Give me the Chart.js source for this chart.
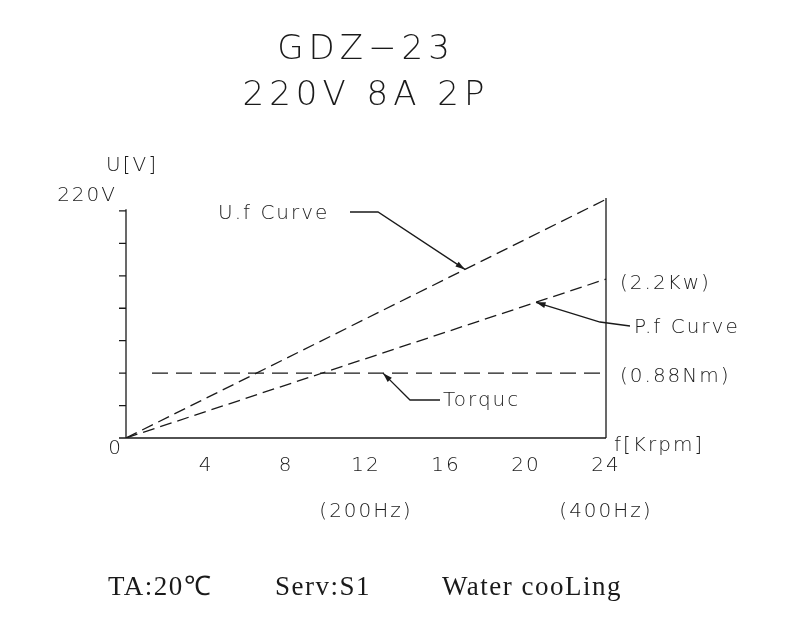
<!DOCTYPE html>
<html>
<head>
<meta charset="utf-8">
<script src="https://cdn.jsdelivr.net/npm/chart.js@4"></script>
<style>
  body { margin: 0; background: #fff; }
  #wrap { width: 788px; height: 641px; }
</style>
</head>
<body>
<div id="wrap"><canvas id="myChart"></canvas></div>
<script>
// data (y in axis units: 7 ticks = 220V)
var ufX = [0, 24];
var ufY = [0, 7.36];
var pfX = [0, 24];
var pfY = [0, 4.9];
var tqX = [1.3, 24];
var tqY = [2.0, 2.0];
var xTicks = [4, 8, 12, 16, 20, 24];
var yTicks = [0, 1, 2, 3, 4, 5, 6, 7];

function pts(xs, ys) {
  return xs.map(function (x, i) { return { x: x, y: ys[i] }; });
}

var ink = '#1a1a1a';
var cad = '"DejaVu Sans", sans-serif';

var drawing = {
  id: 'drawing',
  afterDraw: function (chart) {
    var c = chart.ctx, xs = chart.scales.x, ys = chart.scales.y;
    var X = function (v) { return xs.getPixelForValue(v); };
    var Y = function (v) { return ys.getPixelForValue(v); };
    c.save();
    c.strokeStyle = ink; c.fillStyle = ink; c.lineWidth = 1.3;

    // axes
    c.beginPath();
    c.moveTo(X(0), Y(7.05)); c.lineTo(X(0), Y(0)); c.lineTo(X(24), Y(0));
    c.moveTo(X(24), Y(0)); c.lineTo(X(24), Y(7.4));
    yTicks.forEach(function (t) { c.moveTo(X(0) - 7, Y(t)); c.lineTo(X(0), Y(t)); });
    c.stroke();

    // text
    c.font = '200 34px ' + cad; c.textAlign = 'center'; c.textBaseline = 'middle';
    c.letterSpacing = '5px';
    c.fillText('GDZ\u221223', 366, 50);
    c.fillText('220V 8A 2P', 366, 96);
    c.font = '200 20px ' + cad;
    c.letterSpacing = '2px';
    c.fillText('U[V]', 132, 166);
    c.textAlign = 'right';
    c.fillText('220V', 117, 196);
    c.fillText('0', 123, 449);
    c.textAlign = 'center';
    xTicks.forEach(function (t) { c.fillText(String(t), X(t), Y(0) + 28); });
    c.fillText('(200Hz)', X(12), 512);
    c.fillText('(400Hz)', X(24), 512);
    c.textAlign = 'left';
    c.fillText('f[Krpm]', X(24) + 8, 446);
    c.fillText('(2.2Kw)', 620, 284);
    c.fillText('(0.88Nm)', 620, 377);
    c.fillText('P.f Curve', 634, 328);
    c.fillText('Torquc', 443, 401);
    c.fillText('U.f Curve', 218, 214);

    // leaders
    function leader(p, tipX, tipY) {
      c.beginPath(); c.moveTo(p[0][0], p[0][1]);
      for (var i = 1; i < p.length; i++) c.lineTo(p[i][0], p[i][1]);
      c.lineTo(tipX, tipY); c.stroke();
      var a = Math.atan2(tipY - p[p.length - 1][1], tipX - p[p.length - 1][0]);
      c.beginPath(); c.moveTo(tipX, tipY);
      c.lineTo(tipX - 10 * Math.cos(a - 0.3), tipY - 10 * Math.sin(a - 0.3));
      c.lineTo(tipX - 10 * Math.cos(a + 0.3), tipY - 10 * Math.sin(a + 0.3));
      c.closePath(); c.fill();
    }
    leader([[350, 212], [378, 212]], X(16.95), Y(16.95 * ufY[1] / 24));
    leader([[630, 326], [600, 322]], X(20.5), Y(20.5 * pfY[1] / 24));
    leader([[440, 400], [410, 400]], X(12.85), Y(2.0));

    c.font = '27px "Liberation Serif", serif';
    c.letterSpacing = '1.5px';
    c.fillText('TA:20\u2103', 108, 588);
    c.fillText('Serv:S1', 275, 588);
    c.fillText('Water cooLing', 442, 588);
    c.restore();
  }
};

var line = function (d, dash) {
  return { data: d, borderColor: ink, borderWidth: 1.3, borderDash: dash, pointRadius: 0, fill: false };
};

new Chart(document.getElementById('myChart'), {
  type: 'line',
  data: {
    datasets: [
      line(pts(ufX, ufY), [12, 6]),
      line(pts(pfX, pfY), [12, 6]),
      line(pts(tqX, tqY), [16, 8])
    ]
  },
  options: {
    responsive: true, maintainAspectRatio: false, animation: false,
    layout: { padding: { left: 126, right: 182, top: 198, bottom: 203 } },
    scales: {
      x: { type: 'linear', min: 0, max: 24, display: false },
      y: { min: 0, max: 7.4, display: false }
    },
    plugins: { legend: { display: false }, tooltip: { enabled: false } }
  },
  plugins: [drawing]
});
</script>
</body>
</html>
